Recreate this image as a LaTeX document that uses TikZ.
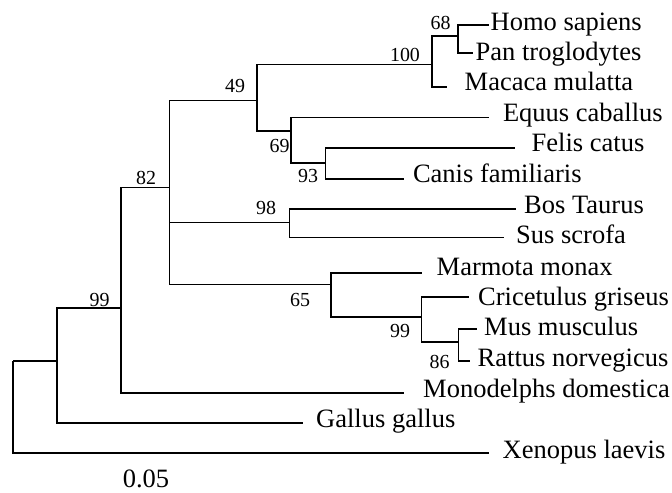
\documentclass[tikz,border=0pt]{standalone}
\usepackage{fontspec}
\setmainfont{Liberation Serif}
\begin{document}
\begin{tikzpicture}[x=1bp,y=-1bp,
  br/.style={line width=1.9bp},
  sp/.style={anchor=base west, inner sep=0pt, font=\fontsize{26.6}{30}\selectfont},
  bs/.style={anchor=base, inner sep=0pt, font=\fontsize{20}{22}\selectfont}]
\useasboundingbox (0,0) rectangle (672,493);
% internal nodes (x of vertical, y where parent branch joins)
\coordinate (root) at (13,361);
\coordinate (n99L) at (57.3,361);
\coordinate (n82a) at (121,308);
\coordinate (n82b) at (169.5,187.5);
\coordinate (n49) at (257,100.5);
\coordinate (n100) at (431.7,64.5);
\coordinate (n68) at (458.3,35.7);
\coordinate (n69) at (291,131);
\coordinate (n93) at (325.5,163.3);
\coordinate (n98) at (289.5,222.5);
\coordinate (n65) at (331,284.5);
\coordinate (n99r) at (421.5,316.7);
\coordinate (n86) at (458.5,342);
% leaf ends
\coordinate (lHomo) at (488.5,25);
\coordinate (lPan) at (473,53.3);
\coordinate (lMac) at (447,86.7);
\coordinate (lEqu) at (489,117.5);
\coordinate (lFel) at (515,148);
\coordinate (lCan) at (403.5,179.3);
\coordinate (lBos) at (516,209);
\coordinate (lSus) at (504,237.5);
\coordinate (lMar) at (421.5,273);
\coordinate (lCri) at (469,297);
\coordinate (lMus) at (476.5,329.3);
\coordinate (lRat) at (470,360.7);
\coordinate (lMon) at (404,393);
\coordinate (lGal) at (302.5,423);
\coordinate (lXen) at (489,452.7);
% branches
\draw[br] (root) |- (n99L);
\draw[br] (root) |- (lXen);
\draw[br] (n99L) |- (n82a);
\draw[br] (n99L) |- (lGal);
\draw[br] (n82a) |- (n82b);
\draw[br] (n82a) |- (lMon);
\draw[br] (n82b) |- (n49);
\draw[br] (n82b) |- (n98);
\draw[br] (n82b) |- (n65);
\draw[br] (n49) |- (n100);
\draw[br] (n49) |- (n69);
\draw[br] (n100) |- (n68);
\draw[br] (n100) |- (lMac);
\draw[br] (n68) |- (lHomo);
\draw[br] (n68) |- (lPan);
\draw[br] (n69) |- (lEqu);
\draw[br] (n69) |- (n93);
\draw[br] (n93) |- (lFel);
\draw[br] (n93) |- (lCan);
\draw[br] (n98) |- (lBos);
\draw[br] (n98) |- (lSus);
\draw[br] (n65) |- (lMar);
\draw[br] (n65) |- (n99r);
\draw[br] (n99r) |- (lCri);
\draw[br] (n99r) |- (n86);
\draw[br] (n86) |- (lMus);
\draw[br] (n86) |- (lRat);
% species names
\node[sp] (tHomo) at (490.5,30.5) {Homo sapiens};
\node[sp] (tPan) at (475.5,60.5) {Pan troglodytes};
\node[sp] (tMac) at (464.5,91) {Macaca mulatta};
\node[sp] (tEqu) at (502.8,121.5) {Equus caballus};
\node[sp] (tFel) at (531.5,152) {Felis catus};
\node[sp] (tCan) at (412.8,183) {Canis familiaris};
\node[sp] (tBos) at (524,213.5) {Bos Taurus};
\node[sp] (tSus) at (516,244) {Sus scrofa};
\node[sp] (tMar) at (436.5,275) {Marmota monax};
\node[sp] (tCri) at (478,305) {Cricetulus griseus};
\node[sp] (tMus) at (484,335.5) {Mus musculus};
\node[sp] (tRat) at (477.5,366.5) {Rattus norvegicus};
\node[sp] (tMon) at (423,397) {Monodelphs domestica};
\node[sp] (tGal) at (316,427.5) {Gallus gallus};
\node[sp] (tXen) at (502.5,458) {Xenopus laevis};
% bootstrap values
\node[bs] (b68) at (440.5,30) {68};
\node[bs] (b100) at (405,61.5) {100};
\node[bs] (b49) at (235,92.5) {49};
\node[bs] (b69) at (279.5,152.5) {69};
\node[bs] (b93) at (308,183) {93};
\node[bs] (b82) at (146,185) {82};
\node[bs] (b98) at (266,215) {98};
\node[bs] (b65) at (300,306.5) {65};
\node[bs] (b99r) at (400,337) {99};
\node[bs] (b86) at (439.5,368) {86};
\node[bs] (b99L) at (99.5,306) {99};
% scale label
\node[bs, font=\fontsize{26.6}{30}\selectfont] (scale) at (146,487) {0.05};
\end{tikzpicture}
\end{document}
